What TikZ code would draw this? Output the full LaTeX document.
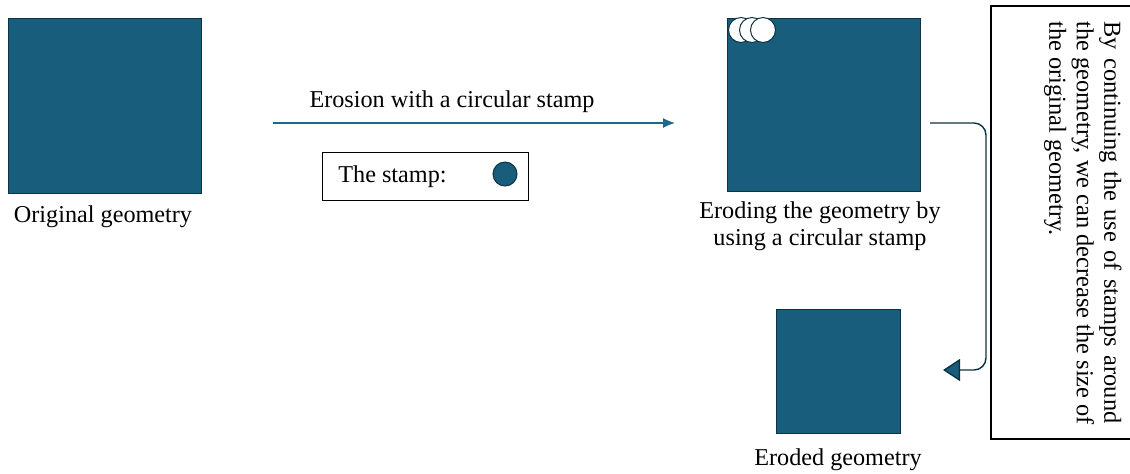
\documentclass[tikz,border=0pt]{standalone}
\usepackage{fontspec}
\setmainfont{Liberation Serif}
\usepackage{tikz}
\usetikzlibrary{arrows.meta,positioning,calc}
\usepackage{xcolor}
\definecolor{TealG} {RGB}{24,  94, 124}
\definecolor{TealL} {RGB}{30, 104, 136}
\definecolor{NavyB} {RGB}{14,  50,  68}

\begin{document}
\begin{tikzpicture}[x=0.5pt,y=-0.5pt,
    font=\fontsize{12.1}{13.5}\selectfont,
    geom/.style={draw=NavyB,fill=TealG,line width=0.5pt,inner sep=0pt},
    lbl/.style={inner sep=0pt,anchor=base}]
        \useasboundingbox (0,0) rectangle (1130,473);
        % original geometry
        \node[geom,minimum width=96.5pt,minimum height=87.5pt] (orig) at (104.5,105.5) {};
        \node[lbl] (origlbl) at (103,222) {Original geometry};
        % erosion arrow
        \coordinate (ea) at (273,123);
        \coordinate (eb) at (675,123);
        \draw[-{Latex[length=6pt,width=5pt]},TealL,line width=0.6pt] (ea)--(eb);
        \node[lbl] (erlbl) at (452,107) {Erosion with a circular stamp};
        \node[draw,line width=0.5pt,minimum width=103pt,minimum height=24pt,inner sep=0pt]
          (stampbox) at (425,176) {};
        \node[lbl,anchor=base west] (stamplbl) at (338,182) {The stamp:};
        \node[circle,draw=NavyB,fill=TealG,line width=0.5pt,minimum size=12pt,inner sep=0pt]
          (stamp) at (505,174) {};
        % eroding
        \node[geom,minimum width=96.5pt,minimum height=86.5pt] (erod) at (823.5,104.5) {};
        \foreach \cx/\nm in {741/sa,752/sb,763/sc}
          \node[circle,draw=NavyB,fill=white,line width=0.5pt,minimum size=12.5pt,inner sep=0pt]
            (\nm) at (\cx,30) {};
        \node[inner sep=0pt,anchor=north,align=center] (erodlbl) at (820,201)
          {Eroding the geometry by\\using a circular stamp};
        % eroded result
        \node[geom,minimum width=62pt,minimum height=62pt] (res) at (838,371) {};
        \node[lbl] (reslbl) at (838,465) {Eroded geometry};
        % connector
        \coordinate (ca) at (930,123);
        \coordinate (cb) at (943,370);
        \draw[NavyB,line width=0.7pt,rounded corners=6pt,
          -{Triangle[length=8.5pt,width=11pt,fill=TealG]}]
          (ca)--(986,123)--(986,370)--(cb);
        % note
        \draw[line width=0.6pt] (1131,6)--(991,6)--(991,439)--(1131,439);
        \node[inner sep=0pt,rotate=-90,anchor=north west,align=left,
          font=\fontsize{12.2}{13.75}\selectfont] (note) at (1122,21)
          {\makebox[201pt][s]{By continuing the use of stamps around}\\the geometry, we can decrease the size of\\the original geometry.};
\end{tikzpicture}
\end{document}
